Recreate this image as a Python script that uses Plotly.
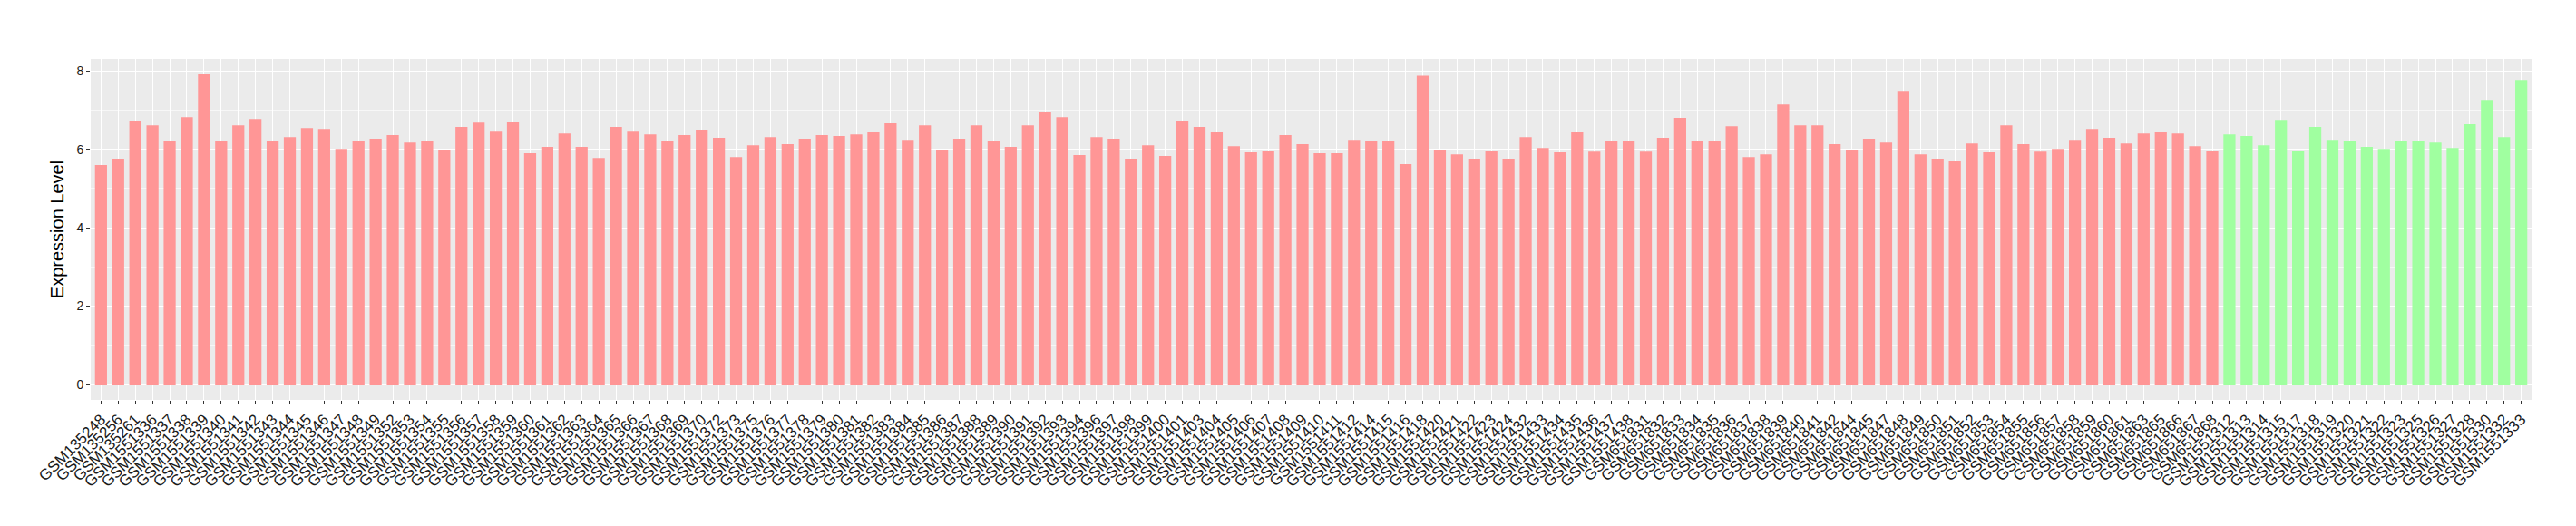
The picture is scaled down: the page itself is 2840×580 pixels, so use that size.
import plotly.graph_objects as go

group1_samples = [
    "GSM135248", "GSM135256", "GSM135261", "GSM1551336", "GSM1551337", "GSM1551338",
    "GSM1551339", "GSM1551340", "GSM1551341", "GSM1551342", "GSM1551343", "GSM1551344",
    "GSM1551345", "GSM1551346", "GSM1551347", "GSM1551348", "GSM1551349", "GSM1551352",
    "GSM1551353", "GSM1551354", "GSM1551355", "GSM1551356", "GSM1551357", "GSM1551358",
    "GSM1551359", "GSM1551360", "GSM1551361", "GSM1551362", "GSM1551363", "GSM1551364",
    "GSM1551365", "GSM1551366", "GSM1551367", "GSM1551368", "GSM1551369", "GSM1551370",
    "GSM1551372", "GSM1551373", "GSM1551375", "GSM1551376", "GSM1551377", "GSM1551378",
    "GSM1551379", "GSM1551380", "GSM1551381", "GSM1551382", "GSM1551383", "GSM1551384",
    "GSM1551385", "GSM1551386", "GSM1551387", "GSM1551388", "GSM1551389", "GSM1551390",
    "GSM1551391", "GSM1551392", "GSM1551393", "GSM1551394", "GSM1551396", "GSM1551397",
    "GSM1551398", "GSM1551399", "GSM1551400", "GSM1551401", "GSM1551403", "GSM1551404",
    "GSM1551405", "GSM1551406", "GSM1551407", "GSM1551408", "GSM1551409", "GSM1551410",
    "GSM1551411", "GSM1551412", "GSM1551414", "GSM1551415", "GSM1551416", "GSM1551418",
    "GSM1551420", "GSM1551421", "GSM1551422", "GSM1551423", "GSM1551424", "GSM1551432",
    "GSM1551433", "GSM1551434", "GSM1551435", "GSM1551436", "GSM1551437", "GSM1551438",
    "GSM651831", "GSM651832", "GSM651833", "GSM651834", "GSM651835", "GSM651836",
    "GSM651837", "GSM651838", "GSM651839", "GSM651840", "GSM651841", "GSM651842",
    "GSM651844", "GSM651845", "GSM651847", "GSM651848", "GSM651849", "GSM651850",
    "GSM651851", "GSM651852", "GSM651853", "GSM651854", "GSM651855", "GSM651856",
    "GSM651857", "GSM651858", "GSM651859", "GSM651860", "GSM651861", "GSM651863",
    "GSM651865", "GSM651866", "GSM651867", "GSM651868",
]
group1_values = [
    5.60, 5.76, 6.73, 6.61, 6.20, 6.82,
    7.91, 6.20, 6.61, 6.77, 6.22, 6.31,
    6.54, 6.52, 6.01, 6.22, 6.27, 6.36,
    6.17, 6.22, 5.99, 6.57, 6.68, 6.47,
    6.71, 5.90, 6.06, 6.40, 6.06, 5.78,
    6.57, 6.47, 6.38, 6.20, 6.36, 6.50,
    6.29, 5.80, 6.10, 6.31, 6.13, 6.27,
    6.36, 6.34, 6.38, 6.43, 6.66, 6.24,
    6.61, 5.99, 6.27, 6.61, 6.22, 6.06,
    6.61, 6.94, 6.82, 5.85, 6.31, 6.27,
    5.76, 6.10, 5.83, 6.73, 6.57, 6.45,
    6.08, 5.92, 5.97, 6.36, 6.13, 5.90,
    5.90, 6.24, 6.22, 6.20, 5.62, 7.88,
    5.99, 5.87, 5.76, 5.97, 5.76, 6.31,
    6.03, 5.92, 6.43, 5.94, 6.22, 6.20,
    5.94, 6.29, 6.80, 6.22, 6.20, 6.59,
    5.80, 5.87, 7.14, 6.61, 6.61, 6.13,
    5.99, 6.27, 6.17, 7.49, 5.87, 5.76,
    5.69, 6.15, 5.92, 6.61, 6.13, 5.94,
    6.01, 6.24, 6.52, 6.29, 6.15, 6.40,
    6.43, 6.40, 6.08, 5.97,
]

group2_samples = [
    "GSM1551312", "GSM1551313", "GSM1551314", "GSM1551315", "GSM1551317", "GSM1551318",
    "GSM1551319", "GSM1551320", "GSM1551321", "GSM1551322", "GSM1551323", "GSM1551325",
    "GSM1551326", "GSM1551327", "GSM1551328", "GSM1551330", "GSM1551332", "GSM1551333",
]
group2_values = [
    6.38, 6.34, 6.10, 6.75, 5.97, 6.57,
    6.24, 6.22, 6.06, 6.01, 6.22, 6.20,
    6.17, 6.03, 6.64, 7.26, 6.31, 7.77,
]

y_ticks = [0, 2, 4, 6, 8]

all_samples = group1_samples + group2_samples
all_values = group1_values + group2_values
ymax = max(all_values)
ypad = 0.05 * ymax

fig = go.Figure()
fig.add_trace(go.Bar(x=group1_samples, y=group1_values, marker=dict(color="#FF9696", line=dict(width=0)),
                     width=0.7, showlegend=False))
fig.add_trace(go.Bar(x=group2_samples, y=group2_values, marker=dict(color="#A0FFA0", line=dict(width=0)),
                     width=0.7, showlegend=False))

fig.update_layout(
    width=2840, height=580,
    margin=dict(l=92, r=57, t=57, b=147),
    paper_bgcolor="white",
    plot_bgcolor="#EBEBEB",
    barmode="overlay",
    font=dict(family="Liberation Sans, Arial, sans-serif", color="#1a1a1a"),
    xaxis=dict(
        type="category",
        categoryorder="array",
        categoryarray=all_samples,
        range=[-0.6, len(all_samples) - 0.4],
        tickmode="array",
        tickvals=all_samples,
        ticktext=all_samples,
        tickangle=-45,
        tickfont=dict(size=17, color="#1a1a1a"),
        ticks="outside", ticklen=4, tickwidth=1, tickcolor="#333333",
        showgrid=True, gridcolor="white", gridwidth=1.2,
        showline=False, zeroline=False,
        automargin=False,
    ),
    yaxis=dict(
        range=[-ypad, ymax + ypad],
        tickvals=y_ticks,
        tickfont=dict(size=14, color="#1a1a1a"),
        ticks="outside", ticklen=4, tickwidth=1, tickcolor="#333333",
        showgrid=True, gridcolor="white", gridwidth=1.2,
        minor=dict(dtick=1, showgrid=True, gridcolor="#F7F7F7", gridwidth=0.8, ticks=""),
        zeroline=False, showline=False,
        title=dict(text="Expression Level", font=dict(size=20, color="#000000"), standoff=8),
        automargin=False,
    ),
)

fig.write_html("out.html")
